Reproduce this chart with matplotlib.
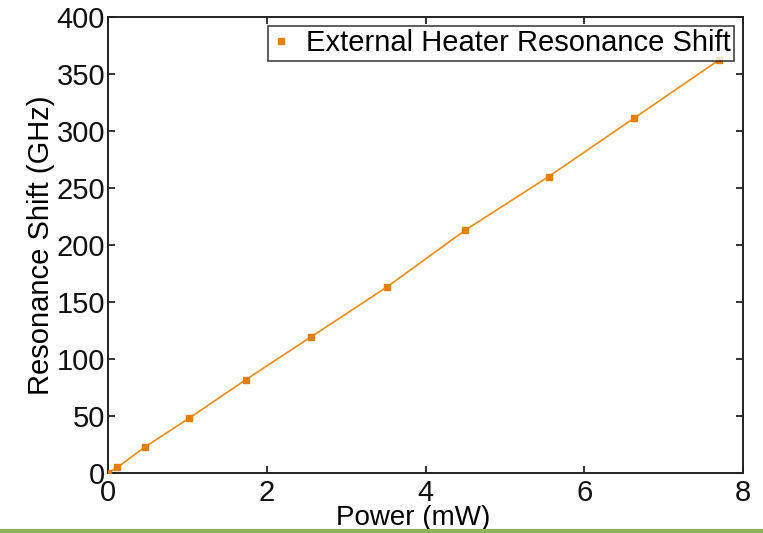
import numpy as np
import matplotlib
matplotlib.use("Agg")
import matplotlib.pyplot as plt
from matplotlib.lines import Line2D

plt.rcParams["font.family"] = ["Liberation Sans", "DejaVu Sans"]

# Heater power (mW) vs measured resonance shift (GHz)
power_mw = [0.0, 0.12, 0.47, 1.02, 1.74, 2.56, 3.51, 4.50, 5.55, 6.62, 7.70]
shift_ghz = [0.0, 5.0, 23.0, 48.0, 82.0, 119.5, 163.0, 213.0, 260.0, 311.0, 362.5]

x_ticks = [0, 2, 4, 6, 8]
y_ticks = [0, 50, 100, 150, 200, 250, 300, 350, 400]

ORANGE = "#ef8a12"
FS = 21

fig = plt.figure(figsize=(7.63, 5.33), dpi=100)
ax = fig.add_axes([0.1415, 0.1126, 0.8325, 0.8555])

ax.plot(power_mw, shift_ghz, color=ORANGE, linewidth=1.2, zorder=2)
ax.plot(power_mw, shift_ghz, linestyle="none", marker="s", markersize=4.5,
        color="#e67e00", label="External Heater Resonance Shift", zorder=3)

ax.set_xlim(0, 8)
ax.set_ylim(0, 400)
ax.set_xticks(x_ticks)
ax.set_yticks(y_ticks)
ax.tick_params(direction="in", length=5, width=1.2, top=True, right=True,
               labelsize=FS, colors="#111111")
ax.tick_params(axis="y", pad=2)
ax.tick_params(axis="x", pad=4)
for s in ax.spines.values():
    s.set_linewidth(1.4)
    s.set_color("#222222")

ax.set_xlabel("Power (mW)", fontsize=20, va="baseline")
ax.xaxis.set_label_coords(0.48, -0.113)
ax.set_ylabel("Resonance Shift (GHz)", fontsize=FS, labelpad=1)

leg = ax.legend(loc="upper right", fontsize=FS, frameon=True, fancybox=False,
                handlelength=0.7, handletextpad=0.5, borderpad=0.12,
                borderaxespad=0.3, markerscale=1.0)
leg.get_frame().set_edgecolor("#111111")
leg.get_frame().set_linewidth(1.2)

# green rule along the bottom edge of the slide
fig.add_artist(Line2D([0, 1], [0.003, 0.003], transform=fig.transFigure,
                      color="#8fb257", linewidth=3))

fig.savefig("out.png", dpi=100)
